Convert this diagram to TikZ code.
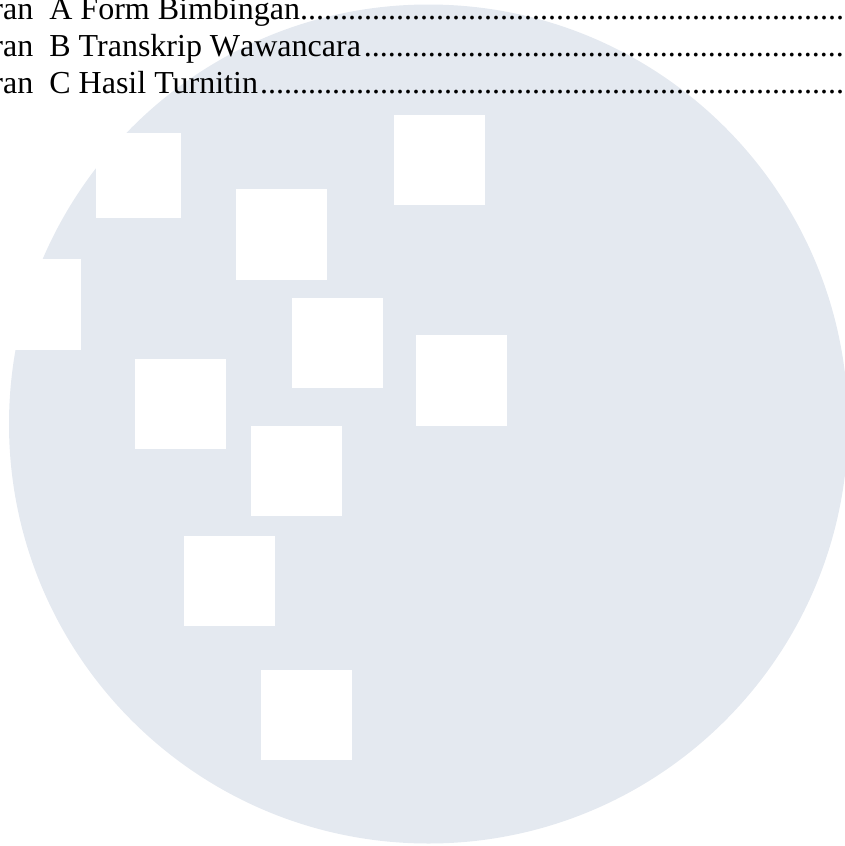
\documentclass[tikz,border=0pt]{standalone}
\usepackage{fontspec}
\setmainfont{Liberation Serif}
\definecolor{disc}{HTML}{E4E9F0}
\tikzset{
  hole/.style={fill=white,draw=none},
  entry/.style={anchor=base west,inner sep=0pt,outer sep=0pt,font=\fontsize{32pt}{37pt}\selectfont,text=black},
}
\newcommand{\dotsten}{..........}
\newcommand{\dotsixty}{\dotsten\dotsten\dotsten\dotsten\dotsten\dotsten}
\begin{document}
\begin{tikzpicture}[x=1pt,y=-1pt]
\useasboundingbox (0,0) rectangle (845,846);
\clip (0,0) rectangle (845,846);
\fill[disc] (428.5,424) circle[radius=419.5];
\fill[hole] (96,133) rectangle (181,218);
\fill[hole] (0,259) rectangle (81,350);
\fill[hole] (236,189) rectangle (327,280);
\fill[hole] (394,115) rectangle (485,205);
\fill[hole] (292,298) rectangle (383,388);
\fill[hole] (416,335) rectangle (507,426);
\fill[hole] (135,359) rectangle (226,449);
\fill[hole] (251,426) rectangle (342,516);
\fill[hole] (184,536) rectangle (275,626);
\fill[hole] (261,670) rectangle (352,760);
\node[entry] (a) at (-7.5,19) {ran\ \ A Form Bimbingan\dotsixty........};
\node[entry] (b) at (-7.5,56) {ran\ \ B Transkrip W\kern0pt awancara\hspace{3pt}\dotsixty};
\node[entry] (c) at (-7.5,93) {ran\ \ C Hasil Turnitin\hspace{2pt}\dotsixty\dotsten...};
\end{tikzpicture}
\end{document}
